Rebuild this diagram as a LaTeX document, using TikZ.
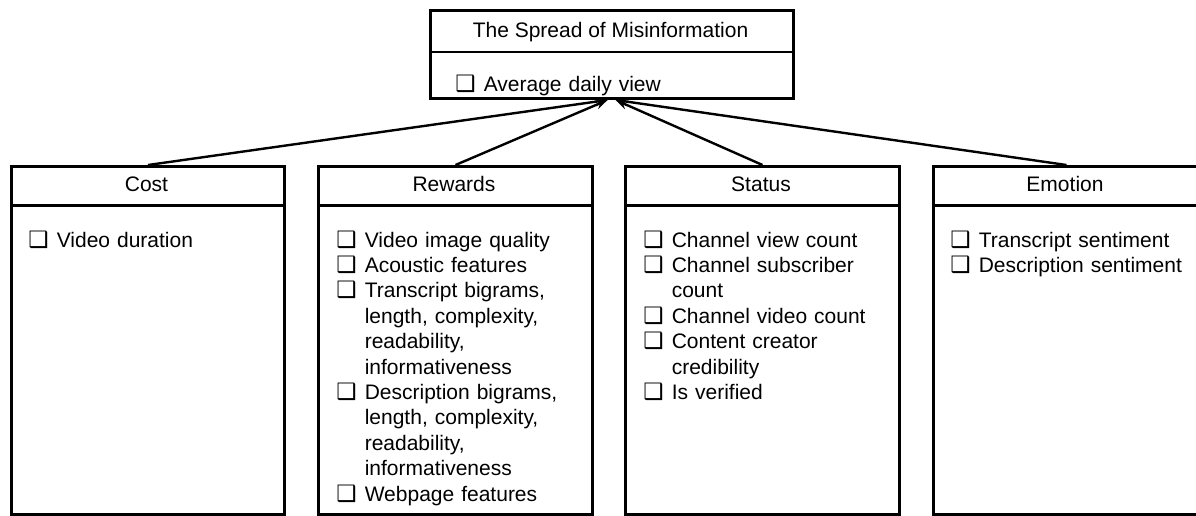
\documentclass[tikz,border=0pt]{standalone}
\usepackage{fontspec}
\setmainfont{Liberation Sans}
\newfontfamily\symfont{DejaVu Sans}
\usetikzlibrary{arrows.meta}
\newcommand{\cbitem}[1]{\par\noindent\strut\makebox[14.2pt][l]{\symfont\fontsize{11.3}{12.7}\selectfont ❑}#1}
\newcommand{\cont}{\\\hspace*{14.2pt}}
\begin{document}
\begin{tikzpicture}[x=0.5pt,y=-0.5pt,
  box/.style={draw, line width=1.5pt, anchor=north west, inner sep=0pt},
  divider/.style={line width=1.3pt},
  head/.style={anchor=base, inner sep=0pt, font=\fontsize{10.5}{12.7}\selectfont},
  list/.style={anchor=north west, inner sep=0pt, yshift=8.89pt, text width=135pt, align=left, font=\fontsize{10.5}{12.7}\selectfont},
  link/.style={line width=1.2pt, -{Stealth[length=6pt,width=4.5pt]}}]
\useasboundingbox (0,0) rectangle (1196,515);
\fill[white] (0,0) rectangle (1196,515);

% top box
\node[box, minimum width=181.5pt, minimum height=44pt] (top) at (429,9) {};
\draw[divider] (top.west |- 0,52) -- (top.east |- 0,52);
\node[head] (title) at (610.5,37) {The Spread of Misinformation};
\node[list] (avg) at (455,83) {\cbitem{Average daily view}};

% category boxes
\node[box, minimum width=136.5pt, minimum height=174pt] (cost) at (10,165) {};
\node[box, minimum width=137pt, minimum height=174pt] (rewards) at (317,165) {};
\node[box, minimum width=137pt, minimum height=174pt] (status) at (624,165) {};
\node[box, minimum width=133pt, minimum height=174pt] (emotion) at (932,165) {};

\foreach \b in {cost,rewards,status,emotion}{
  \draw[divider] (\b.west |- 0,205.5) -- (\b.east |- 0,205.5);
}

\node[head] (costh) at (146.5,191) {Cost};
\node[head] (rewardsh) at (454,191) {Rewards};
\node[head] (statush) at (761,191) {Status};
\node[head] (emotionh) at (1065,191) {Emotion};

\node[list] (costl) at (28,239) {\cbitem{Video duration}};
\node[list] (rewardsl) at (336,239) {%
\cbitem{Video image quality}
\cbitem{Acoustic features}
\cbitem{Transcript bigrams,\cont length, complexity,\cont readability,\cont informativeness}
\cbitem{Description bigrams,\cont length, complexity,\cont readability,\cont informativeness}
\cbitem{Webpage features}};
\node[list] (statusl) at (643,239) {%
\cbitem{Channel view count}
\cbitem{Channel subscriber\cont count}
\cbitem{Channel video count}
\cbitem{Content creator\cont credibility}
\cbitem{Is verified}};
\node[list] (emotionl) at (950,239) {%
\cbitem{Transcript sentiment}
\cbitem{Description sentiment}};

% connectors
\draw[link] (cost.north) -- ([xshift=-2.2pt]top.south);
\draw[link] (rewards.north) -- ([xshift=-2.2pt]top.south);
\draw[link] (status.north) -- ([xshift=1.8pt]top.south);
\draw[link] (emotion.north) -- ([xshift=1.8pt]top.south);
\end{tikzpicture}
\end{document}
